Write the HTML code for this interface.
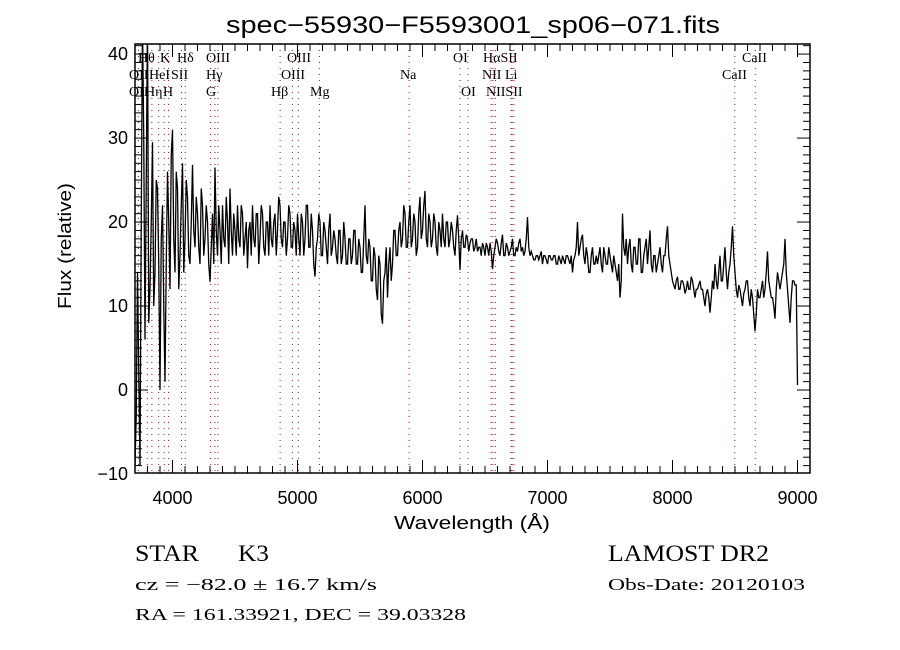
<!DOCTYPE html>
<html><head><meta charset="utf-8"><title>spec-55930-F5593001_sp06-071</title>
<style>html,body{margin:0;padding:0;background:#fff;}svg{display:block;}</style></head>
<body>
<svg id="chart" width="900" height="650" xmlns="http://www.w3.org/2000/svg">
<rect x="0" y="0" width="900" height="650" fill="#fff"/>
<text x="473" y="33" text-anchor="middle" font-family="Liberation Sans, sans-serif" font-size="24" textLength="494" lengthAdjust="spacingAndGlyphs">spec−55930−F5593001_sp06−071.fits</text>
<g id="lines"></g>
<g id="spec"></g>
<g id="axes"></g>
<text x="472" y="529" text-anchor="middle" font-family="Liberation Sans, sans-serif" font-size="18" textLength="156" lengthAdjust="spacingAndGlyphs">Wavelength (Å)</text>
<text transform="translate(71,246) rotate(-90)" text-anchor="middle" font-family="Liberation Sans, sans-serif" font-size="18" textLength="126" lengthAdjust="spacingAndGlyphs">Flux (relative)</text>
<g font-family="Liberation Serif, serif">
<text x="135" y="561" font-size="23" textLength="64" lengthAdjust="spacingAndGlyphs">STAR</text>
<text x="238" y="561" font-size="23" textLength="31" lengthAdjust="spacingAndGlyphs">K3</text>
<text x="135" y="590" font-size="17" textLength="242" lengthAdjust="spacingAndGlyphs">cz = −82.0 ± 16.7 km/s</text>
<text x="135" y="620" font-size="17" textLength="331" lengthAdjust="spacingAndGlyphs">RA = 161.33921, DEC =  39.03328</text>
<text x="608" y="561" font-size="23" textLength="161" lengthAdjust="spacingAndGlyphs">LAMOST DR2</text>
<text x="608" y="590" font-size="17" textLength="197" lengthAdjust="spacingAndGlyphs">Obs-Date: 20120103</text>
</g>
</svg>
<script>
const wlStart = 3700;
const wlStep = 10;
const flux = [
-9,-3,14,2,-9,20,44,30,6,25,
44,8,12,20,29.5,10,14,25,24,15,
0,18,22,10,1,15,26,20,12,28,
31,18,14,26,24,12,16,22,27,14,
18,25,23,16,15,20,26.8,19,17,23,
21,17,15,24,22,16,18,22,20,15,
12.9,17,21,15,26.5,19,16,22,19,15,
22,18,17,23,20,15,24,19,16,21,
19,16,22,18,17,22,21,16,18,20,
14.5,19,20,16,22,18,17,21,21,15,
18,22,21,17,16,20,20,16,22,18,
17,20,21,16,19,23,22,18,17,20,
20,16,18,22,21,17,17,20,19,16,
21,18,16,21,20,16,18,22,22,17,
17,21,19,15,13.5,17,18,21,20,16,
16,20,19,17,15,19,21,16,17,19,
18,16,15,19,19,15,16,20,18,15,
15,18,18,15,16,19,19,15,15,18,
17,14,14,18,22,16,15,18,17,13,
13,17,16,12,10.7,16,15,9,7.9,13,
14,17,11,15,17,13,15,19,19,16,
16,19,20,17,18,22,21,17,17,20,
22,17,18,21,20,16,17,21,23,18,
19,22,23.7,18,17,21,20,17,18,21,
20,17,16,20,19,17,21,18,17,20,
20,17,18,20,19,17,16,19,20.8,18,
14.3,18,19,17,17,18.5,18,16.5,17.5,18,
18,16.5,17,18,16.5,17,17,16,17.5,17,
16,17.5,17,16,17.5,16.5,14.4,16,17,18,
17.5,16.5,16,17.5,18.5,16,16,17.5,17,16,
16.5,17,18,16,16,17,16.5,17.5,18,16.5,
17,16,16.5,18,20.6,17,16,16.5,16,15.5,
15.5,16,16,15.5,16,16.5,15,16,16,15.5,
15,16,16,15.5,15.5,16,16,15,15,16,
15.5,15,16,15.5,15,16,16,15.5,15,16,
14,15.5,16,17,20,16,17,18,18.5,16,
15,17,16,14,14,16,17,15,15,16,
15,16,17,15,14,17,16,15,15,17,
16,15,14,16,15,14,13,15,11,13,
21,17,16,18,15,17,18,15,14,17,
17,15,15,18,18,14,14,16,17,18,
15,17,19,15,14,16,16,14,15,16,
17,15,14,16,16,18,19.5,16,15,14,
13,12.5,12,13,13.5,12,12,13,13,12.5,
11.5,12,13,12,12,13.5,13,12,11,12,
12,12.5,13,12,12,11,10,11.5,12,11,
9.2,11,13,12,15,13,12,14,16,13,
13,15,17,14,12,14,15,17,19.5,16,
14,12,11,12.5,12,11,10,11.5,12,13,
13,11,10,12,11,9,7,9,12,11,
11,12,13,11,12,14,16.5,13,12,11,
11,10,8.5,12,14,13,12,13,14,15,
18,14,12,10,8,11,13,13,12.5,12.5,
0.6
];
const xTicks = [4000,5000,6000,7000,8000,9000];
const yTicks = [-10,0,10,20,30,40];
const lineWl = [3727,3798,3835,3889,3934,3969,4072,4102,4305,4340,4363,4861,4959,5007,5175,5893,6300,6364,6548,6563,6583,6708,6717,6731,8498,8662];
const labelText = ["Hθ","K","Hδ","OIII","OIII","OI","HαSII","CaII","OII","HeI","SII","Hγ","OIII","Na","NII","Li","CaII","OII","Hη","H","G","Hβ","Mg","OI","NIISII"];
const labelWl = [3724,3900,4036,4268,4916,6244,6484,8556,3652,3812,3988,4268,4868,5820,6476,6660,8396,3652,3780,3924,4268,4788,5100,6308,6508];
const labelRow = [0,0,0,0,0,0,0,0,1,1,1,1,1,1,1,1,1,2,2,2,2,2,2,2,2];

const X0=135,X1=810,Y0=44,Y1=473;
const xMin=3700,xMax=9100,yMin=-9.88,yMax=41.2;
function xs(w){return X0+(w-xMin)/(xMax-xMin)*(X1-X0);}
function ys(v){return Y1-(v-yMin)/(yMax-yMin)*(Y1-Y0);}
const NS="http://www.w3.org/2000/svg";
function mk(tag,attrs,parent){const e=document.createElementNS(NS,tag);for(const k in attrs)e.setAttribute(k,attrs[k]);parent.appendChild(e);return e;}

const gl=document.getElementById('lines');
lineWl.forEach(w=>{
  const l=mk('line',{x1:xs(w),x2:xs(w),y1:Y0,y2:Y1,stroke:'#8b1a1a','stroke-width':1,'stroke-dasharray':'1,5'},gl);
  
  
});
const rowY=[62,79,96];
labelText.forEach((t,i)=>{
  const e=mk('text',{x:xs(labelWl[i]),y:rowY[labelRow[i]],'font-family':'Liberation Serif, serif','font-size':14},gl);
  e.textContent=t;
  
  
});

const gs=document.getElementById('spec');
const defs=mk('defs',{},gs);
const cp=mk('clipPath',{id:'clip'},defs);
mk('rect',{x:X0,y:Y0,width:X1-X0,height:Y1-Y0},cp);
let d='';
flux.forEach((v,i)=>{const w=wlStart+i*wlStep;d+=(i?'L':'M')+xs(w).toFixed(2)+','+ys(v).toFixed(2);});
const p=mk('path',{d:d,fill:'none',stroke:'#000','stroke-width':1.3,'clip-path':'url(#clip)'},gs);



const ga=document.getElementById('axes');
const fr=mk('rect',{x:X0,y:Y0,width:X1-X0,height:Y1-Y0,fill:'none',stroke:'#000','stroke-width':1.5},ga);


for(let w=3700;w<=9100;w+=100){
  const major=(w%1000===0);const len=major?13:7;
  mk('line',{x1:xs(w),x2:xs(w),y1:Y1,y2:Y1-len,stroke:'#000','stroke-width':1},ga);
  mk('line',{x1:xs(w),x2:xs(w),y1:Y0,y2:Y0+len,stroke:'#000','stroke-width':1},ga);
}
for(let v=-9;v<=41;v+=1){
  const major=(v%10===0);const len=major?13:7;
  mk('line',{x1:X0,x2:X0+len,y1:ys(v),y2:ys(v),stroke:'#000','stroke-width':1},ga);
  mk('line',{x1:X1,x2:X1-len,y1:ys(v),y2:ys(v),stroke:'#000','stroke-width':1},ga);
}
xTicks.forEach(w=>{
  const t=mk('text',{x:xs(w),y:504,'text-anchor':'middle','font-family':'Liberation Sans, sans-serif','font-size':18},ga);
  t.textContent=String(w);
  
  
});
yTicks.forEach(v=>{
  const t=mk('text',{x:128,y:ys(v)+6,'text-anchor':'end','font-family':'Liberation Sans, sans-serif','font-size':18},ga);
  t.textContent=(v<0?'−':'')+Math.abs(v);
  
  
});
</script>
</body></html>
